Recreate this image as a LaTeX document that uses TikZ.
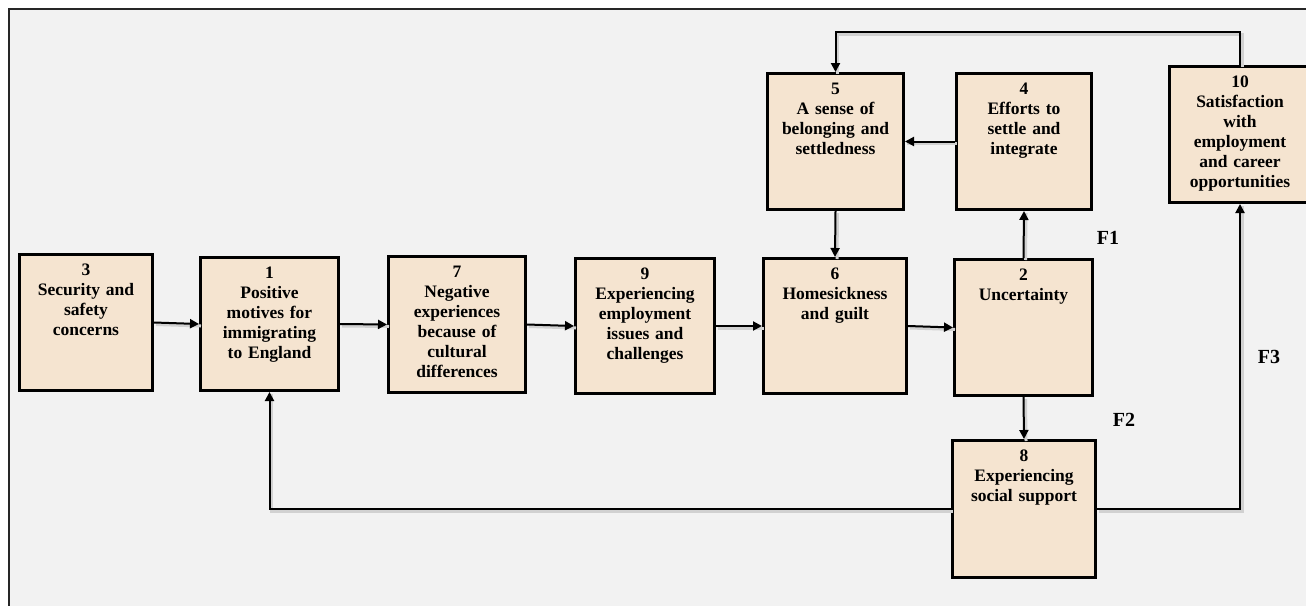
\documentclass[tikz,border=0pt]{standalone}
\usepackage{fontspec}
\setmainfont{Liberation Serif}
\usetikzlibrary{arrows.meta}
\definecolor{bgc}{HTML}{F2F2F2}
\definecolor{boxc}{HTML}{F5E4D0}
\begin{document}
\begin{tikzpicture}[x=1pt,y=-1pt,
  box/.style={draw=black, line width=3pt, fill=boxc, inner sep=0pt},
  btext/.style={anchor=north, text width=134pt, align=center, inner sep=0pt,
    font=\fontsize{17.5}{20}\selectfont\bfseries},
  conn/.style={line width=2pt, -{Triangle[length=9pt,width=9pt]},
    preaction={draw=black!18, line width=3pt, -, transform canvas={xshift=2pt,yshift=-2pt}}},
  flab/.style={font=\fontsize{20}{24}\selectfont\bfseries, inner sep=0pt}]
\useasboundingbox (0,0) rectangle (1306,605);
\clip (0,0) rectangle (1306,605);
\fill[white] (0,0) rectangle (1306,605);
\fill[bgc] (9,9) rectangle (1320,620);
\draw[line width=2.5pt, black!85] (1320,9) -- (9,9) -- (9,620);

% boxes
\node[box, minimum width=133pt, minimum height=136pt] (n3) at (86,322.5) {};
\node[box, minimum width=138pt, minimum height=133pt] (n1) at (269.5,324) {};
\node[box, minimum width=137pt, minimum height=136pt] (n7) at (457,324.5) {};
\node[box, minimum width=139pt, minimum height=135pt] (n9) at (645,326) {};
\node[box, minimum width=143pt, minimum height=135pt] (n6) at (835,326) {};
\node[box, minimum width=138pt, minimum height=136pt] (n2) at (1023.5,327.5) {};
\node[box, minimum width=136pt, minimum height=136pt] (n5) at (835.5,141.5) {};
\node[box, minimum width=135pt, minimum height=136pt] (n4) at (1024,141.5) {};
\node[box, minimum width=141pt, minimum height=136pt] (n10) at (1240,134.5) {};
\node[box, minimum width=143pt, minimum height=137pt] (n8) at (1024,509) {};

% texts
\node[btext] (t3) at ([yshift=-11pt]n3.north) {3\\Security and\\safety\\concerns};
\node[btext] (t1) at ([yshift=-11pt]n1.north) {1\\Positive\\motives for\\immigrating\\to England};
\node[btext] (t7) at ([yshift=-11pt]n7.north) {7\\Negative\\experiences\\because of\\cultural\\differences};
\node[btext] (t9) at ([yshift=-11pt]n9.north) {9\\Experiencing\\employment\\issues and\\challenges};
\node[btext] (t6) at ([yshift=-11pt]n6.north) {6\\Homesickness\\and guilt};
\node[btext] (t2) at ([yshift=-11pt]n2.north) {2\\Uncertainty};
\node[btext] (t5) at ([yshift=-11pt]n5.north) {5\\A sense of\\belonging and\\settledness};
\node[btext] (t4) at ([yshift=-11pt]n4.north) {4\\Efforts to\\settle and\\integrate};
\node[btext] (t10) at ([yshift=-11pt]n10.north) {10\\Satisfaction\\with\\employment\\and career\\opportunities};
\node[btext] (t8) at ([yshift=-11pt]n8.north) {8\\Experiencing\\social support};

% labels
\node[flab] (f1) at (1108,238) {F1};
\node[flab] (f2) at (1124,420) {F2};
\node[flab] (f3) at (1269,357) {F3};

\coordinate (ty) at (0,32);

% connectors
\draw[conn] (n3.east) -- (n1.west);
\draw[conn] (n1.east) -- (n7.west);
\draw[conn] (n7.east) -- (n9.west);
\draw[conn] (n9.east) -- (n6.west);
\draw[conn] (n6.east) -- (n2.west);
\draw[conn] (n2.north) -- (n4.south);
\draw[conn] (n4.west) -- (n5.east);
\draw[conn] (n5.south) -- (n6.north);
\draw[conn] (n2.south) -- (n8.north);
\draw[conn] (n8.west) -| (n1.south);
\draw[conn] (n8.east) -| (n10.south);
\draw[conn] (n10.north) -- (n10.north |- ty) -| (n5.north);
\end{tikzpicture}
\end{document}
